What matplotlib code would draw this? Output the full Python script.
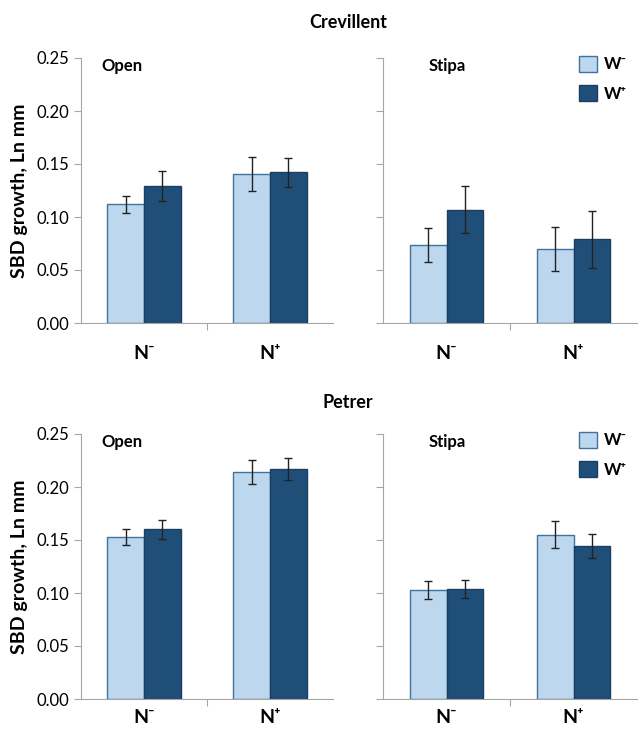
import numpy as np
import matplotlib
matplotlib.use('Agg')
import matplotlib.pyplot as plt
from matplotlib.patches import Patch

plt.rcParams['font.family'] = ['Lato', 'DejaVu Sans']

sites = ['Crevillent', 'Petrer']
habitats = ['Open', 'Stipa']
n_labels = ['N\u207b', 'N\u207a']
w_labels = ['W\u207b', 'W\u207a']

# means and error bars per site / habitat, ordered N-, N+
crev_open_wminus = [0.112, 0.141]
crev_open_wplus = [0.129, 0.142]
crev_open_wminus_err = [0.008, 0.016]
crev_open_wplus_err = [0.014, 0.014]

crev_stipa_wminus = [0.074, 0.070]
crev_stipa_wplus = [0.107, 0.079]
crev_stipa_wminus_err = [0.016, 0.021]
crev_stipa_wplus_err = [0.022, 0.027]

pet_open_wminus = [0.153, 0.214]
pet_open_wplus = [0.160, 0.217]
pet_open_wminus_err = [0.0075, 0.0115]
pet_open_wplus_err = [0.0087, 0.0107]

pet_stipa_wminus = [0.103, 0.155]
pet_stipa_wplus = [0.104, 0.144]
pet_stipa_wminus_err = [0.0083, 0.0127]
pet_stipa_wplus_err = [0.0087, 0.0112]

panels = [
    [(crev_open_wminus, crev_open_wminus_err, crev_open_wplus, crev_open_wplus_err),
     (crev_stipa_wminus, crev_stipa_wminus_err, crev_stipa_wplus, crev_stipa_wplus_err)],
    [(pet_open_wminus, pet_open_wminus_err, pet_open_wplus, pet_open_wplus_err),
     (pet_stipa_wminus, pet_stipa_wminus_err, pet_stipa_wplus, pet_stipa_wplus_err)],
]

light = '#bdd7ee'
dark = '#1f4e79'
light_edge = '#41719c'
dark_edge = '#1a3f63'
axis_grey = '#a6a6a6'

fig = plt.figure(figsize=(6.39, 7.32), dpi=100)

lefts = [81 / 639, 383 / 639]
widths = [252 / 639, 254 / 639]
bottoms = [1 - 323 / 732, 1 - 699 / 732]
height = 265 / 732
xlabel_pad = [16, 7]

x = np.arange(2)
bw = 0.29
err_style = dict(ecolor='#222222', elinewidth=1, capthick=1)

for r, site in enumerate(sites):
    for c, hab in enumerate(habitats):
        ax = fig.add_axes([lefts[c], bottoms[r], widths[c], height])
        wm, wm_err, wp, wp_err = panels[r][c]
        ax.bar(x - bw / 2, wm, bw, color=light, edgecolor=light_edge, linewidth=1,
               yerr=wm_err, capsize=3, error_kw=err_style)
        ax.bar(x + bw / 2, wp, bw, color=dark, edgecolor=dark_edge, linewidth=1,
               yerr=wp_err, capsize=3, error_kw=err_style)

        ax.set_xlim(-0.5, 1.5)
        ax.set_ylim(0, 0.25)
        ax.set_yticks(np.arange(0, 0.26, 0.05))
        ax.set_xticks([0.5])
        ax.set_xticklabels([])
        ax.set_xticks(x, minor=True)
        ax.set_xticklabels(n_labels, minor=True, fontsize=14, fontweight='bold')
        ax.tick_params(axis='x', which='minor', length=0, pad=xlabel_pad[r])
        ax.tick_params(axis='x', which='major', length=5, color=axis_grey)
        ax.tick_params(axis='y', length=5, color=axis_grey, labelsize=12)
        for s in ['top', 'right']:
            ax.spines[s].set_visible(False)
        for s in ['left', 'bottom']:
            ax.spines[s].set_color(axis_grey)

        if c == 0:
            ax.yaxis.set_major_formatter(matplotlib.ticker.FormatStrFormatter('%.2f'))
            ax.set_ylabel('SBD growth, Ln mm', fontsize=14, fontweight='bold', labelpad=6)
            ax.text(0.08, 1.0, hab, transform=ax.transAxes, fontsize=12,
                    fontweight='bold', va='top', ha='left')
        else:
            ax.set_yticklabels([])
            ax.text(0.18, 1.0, hab, transform=ax.transAxes, fontsize=12,
                    fontweight='bold', va='top', ha='left')
            handles = [Patch(facecolor=light, edgecolor=light_edge),
                       Patch(facecolor=dark, edgecolor=dark_edge)]
            ax.legend(handles, w_labels, loc='upper right', frameon=False,
                      bbox_to_anchor=(1.02, 1.065), handlelength=1.1,
                      handleheight=1.1, handletextpad=0.4, labelspacing=0.75,
                      prop={'weight': 'bold', 'size': 12})

    fig.text(0.545, 1 - (22 if r == 0 else 403) / 732, site, ha='center', va='center',
             fontsize=13, fontweight='bold')

fig.savefig('out.png', dpi=100)
